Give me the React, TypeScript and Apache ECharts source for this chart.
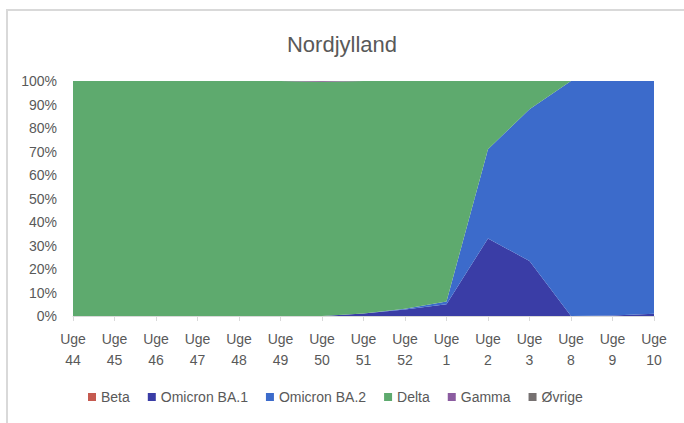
import React, { useEffect, useRef } from "react";
import * as echarts from "echarts";

const categories = ["Uge\n44", "Uge\n45", "Uge\n46", "Uge\n47", "Uge\n48", "Uge\n49", "Uge\n50", "Uge\n51", "Uge\n52", "Uge\n1", "Uge\n2", "Uge\n3", "Uge\n8", "Uge\n9", "Uge\n10"];
const beta = [0, 0, 0, 0, 0, 0, 0, 0, 0, 0, 0, 0, 0, 0, 0];
const omicronBA1 = [0, 0, 0, 0, 0, 0, 0, 1.1, 2.8, 5.0, 33.0, 23.4, 0, 0.2, 1.0];
const omicronBA2 = [0, 0, 0, 0, 0, 0, 0, 0, 0.3, 1.2, 38.0, 64.6, 100, 99.8, 99.0];
const gamma = [0, 0, 0, 0, 0, 0, 0.3, 0, 0, 0, 0, 0, 0, 0, 0];
const ovrige = [0, 0, 0, 0, 0, 0, 0.1, 0, 0, 0, 0, 0, 0, 0, 0];
const delta = [100, 100, 100, 100, 100, 100, 99.6, 98.9, 96.9, 93.8, 29.0, 12.0, 0, 0, 0];

const seriesNames = ["Beta", "Omicron BA.1", "Omicron BA.2", "Delta", "Gamma", "Øvrige"];
const seriesData = [beta, omicronBA1, omicronBA2, delta, gamma, ovrige];
const colors = ["#C55A50", "#3A3DA6", "#3C6BCB", "#5EAA6E", "#8B5CA0", "#767171"];

export default function App() {
  const ref = useRef<HTMLDivElement>(null);
  useEffect(() => {
    document.body.style.margin = "0";
    const chart = echarts.init(ref.current!, null, { renderer: "svg" });
    const font = "'Liberation Sans', Arial, sans-serif";
    chart.setOption({
      animation: false,
      color: colors,
      textStyle: { fontFamily: font },
      title: {
        text: "Nordjylland",
        left: "center",
        top: 28,
        textStyle: { fontSize: 22, fontWeight: "normal", color: "#595959", fontFamily: font },
      },
      legend: {
        data: seriesNames,
        bottom: 14,
        left: 83,
        itemWidth: 8,
        itemHeight: 8,
        itemGap: 18,
        icon: "rect",
        textStyle: { fontSize: 14, color: "#595959", fontFamily: font },
      },
      graphic: [
        {
          type: "rect",
          shape: { x: 7, y: 10, width: 720, height: 500 },
          style: { fill: "none", stroke: "#d9d9d9", lineWidth: 2 },
          silent: true,
        },
      ],
      grid: { left: 73, right: 30, top: 81, bottom: 107, containLabel: false },
      xAxis: {
        type: "category",
        data: categories,
        boundaryGap: false,
        axisLine: { lineStyle: { color: "#d9d9d9" } },
        axisTick: { show: true, length: 5, lineStyle: { color: "#d9d9d9" } },
        axisLabel: { color: "#595959", fontSize: 14, lineHeight: 21, margin: 12, interval: 0, fontFamily: font },
      },
      yAxis: {
        type: "value",
        min: 0,
        max: 100,
        interval: 10,
        axisLine: { show: false },
        axisTick: { show: false },
        splitLine: { show: true, lineStyle: { color: "#d9d9d9" } },
        axisLabel: { formatter: "{value}%", color: "#595959", fontSize: 14, margin: 16, fontFamily: font },
      },
      series: seriesNames.map((name, i) => ({
        name,
        type: "line",
        stack: "total",
        data: seriesData[i],
        symbol: "none",
        lineStyle: { width: 0 },
        areaStyle: { color: colors[i], opacity: 1 },
        itemStyle: { color: colors[i] },
      })),
    });
    return () => chart.dispose();
  }, []);
  return <div ref={ref} style={{ width: 684, height: 423 }} />;
}
